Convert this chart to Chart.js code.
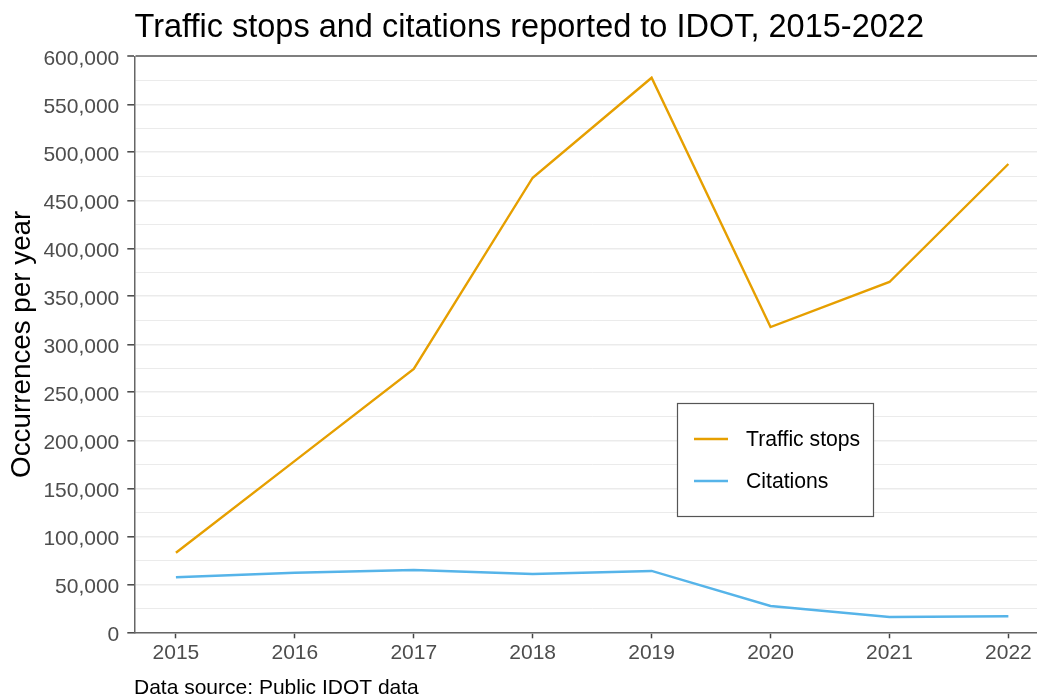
<!DOCTYPE html>
<html>
<head>
<meta charset="utf-8">
<script src="https://cdn.jsdelivr.net/npm/chart.js@4.4.1/dist/chart.umd.min.js"></script>
<style>
  html, body { margin: 0; padding: 0; background: #fff; overflow: hidden; width: 1037px; height: 698px; }
  canvas { display: block; }
</style>
</head>
<body>
<canvas id="c" width="1060" height="698"></canvas>
<script>
// ---- Data ----
const years = [2015, 2016, 2017, 2018, 2019, 2020, 2021, 2022];
const trafficStops = [82900, 178600, 274300, 473500, 577700, 318000, 364900, 487800];
const citations = [57300, 62100, 64900, 60700, 63900, 27400, 15900, 16700];
const seriesLabels = ["Traffic stops", "Citations"];
const yMajorTicks = [0, 50000, 100000, 150000, 200000, 250000, 300000, 350000, 400000, 450000, 500000, 550000, 600000];
const titleText = "Traffic stops and citations reported to IDOT, 2015-2022";
const yAxisTitle = "Occurrences per year";
const captionText = "Data source: Public IDOT data";

const FONT = '"Liberation Sans", Arial, Helvetica, sans-serif';
const colors = ["#E69F00", "#56B4E9"];

const toPoints = arr => arr.map((v, i) => ({ x: years[i], y: v }));
const fmt = v => v.toLocaleString('en-US');

const decor = {
  id: 'decor',
  afterDraw(chart) {
    const c = chart.ctx;
    c.save();
    c.fillStyle = '#000';
    c.textAlign = 'left';
    c.textBaseline = 'alphabetic';
    c.font = '32.5px ' + FONT;
    c.fillText(titleText, 134.5, 36.5);
    c.font = '21px ' + FONT;
    c.fillText(captionText, 134, 694);

    // legend box
    const bx = 677.5, by = 403.5, bw = 196, bh = 113;
    c.fillStyle = '#fff';
    c.fillRect(bx, by, bw, bh);
    c.strokeStyle = '#555';
    c.lineWidth = 1.2;
    c.strokeRect(bx, by, bw, bh);
    const rows = [439, 481];
    chart.data.datasets.forEach((ds, i) => {
      c.strokeStyle = ds.borderColor;
      c.lineWidth = 2.4;
      c.beginPath();
      c.moveTo(694, rows[i]);
      c.lineTo(728, rows[i]);
      c.stroke();
      c.fillStyle = '#000';
      c.font = '21.2px ' + FONT;
      c.textBaseline = 'middle';
      c.fillText(ds.label, 746, rows[i] + 1);
    });
    c.restore();
  }
};

new Chart(document.getElementById('c'), {
  type: 'line',
  data: {
    datasets: [
      { label: seriesLabels[0], data: toPoints(trafficStops), borderColor: colors[0], backgroundColor: colors[0], borderWidth: 2.4, pointRadius: 0, tension: 0 },
      { label: seriesLabels[1], data: toPoints(citations), borderColor: colors[1], backgroundColor: colors[1], borderWidth: 2.4, pointRadius: 0, tension: 0 }
    ]
  },
  options: {
    responsive: false,
    animation: false,
    devicePixelRatio: 1,
    layout: { padding: { top: 56.3, right: 10, bottom: 0, left: 0 } },
    plugins: {
      legend: { display: false },
      title: { display: false },
      tooltip: { enabled: false }
    },
    scales: {
      x: {
        type: 'linear',
        min: 2014.65,
        max: 2022.35,
        afterBuildTicks: s => { s.ticks = years.map(v => ({ value: v })); },
        afterFit: s => { s.height = 698 - 632.3; },
        grid: { drawOnChartArea: false, drawTicks: true, tickLength: 6, tickColor: '#444', tickWidth: 1.5 },
        border: { display: true, color: '#666', width: 1.5 },
        ticks: { color: '#4d4d4d', font: { family: FONT, size: 21 }, padding: 2, maxRotation: 0, callback: v => String(v) }
      },
      y: {
        type: 'linear',
        min: 0,
        max: 600000,
        afterBuildTicks: s => {
          const t = [];
          for (let i = 0; i < yMajorTicks.length; i++) {
            t.push({ value: yMajorTicks[i], major: true });
            if (i < yMajorTicks.length - 1) t.push({ value: (yMajorTicks[i] + yMajorTicks[i + 1]) / 2, minor: true });
          }
          s.ticks = t;
        },
        afterFit: s => { s.width = 134.3; },
        grid: {
          drawTicks: true,
          tickLength: 7,
          color: ctx => ctx.tick && ctx.tick.value === 600000 ? '#7f7f7f' : '#ebebeb',
          lineWidth: ctx => ctx.tick && ctx.tick.value === 600000 ? 2 : (yMajorTicks.includes(ctx.tick && ctx.tick.value) ? 1.6 : 1),
          tickColor: ctx => yMajorTicks.includes(ctx.tick && ctx.tick.value) ? '#444' : 'rgba(0,0,0,0)',
          tickWidth: 1.5
        },
        border: { display: true, color: '#666', width: 1.5 },
        ticks: {
          color: '#4d4d4d',
          font: { family: FONT, size: 21 },
          padding: 8,
          labelOffset: 2.5,
          autoSkip: false,
          callback: v => yMajorTicks.includes(v) ? fmt(v) : ''
        },
        title: { display: true, text: yAxisTitle, color: '#000', font: { family: FONT, size: 27.8 }, padding: { top: 6, bottom: 0 } }
      }
    }
  },
  plugins: [decor]
});
</script>
</body>
</html>
